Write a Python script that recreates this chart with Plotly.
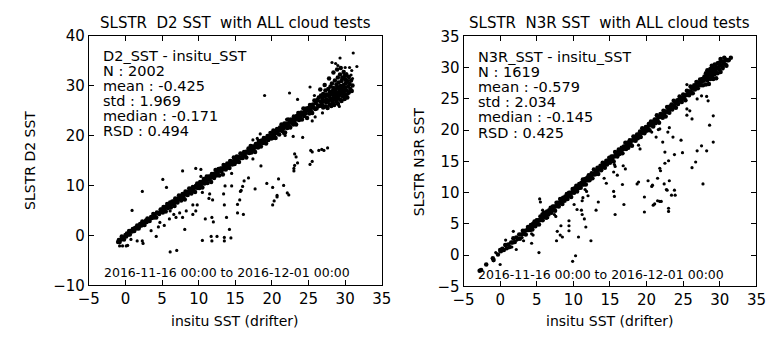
import plotly.graph_objects as go

# ---------------- data ----------------
# Left panel: D2 SST vs in-situ SST.  Band points given as (insitu, D2 - insitu)
d2_band = [(-1.0,-0.3),(-0.9,0.0),(-0.8,-0.5),(-0.6,-0.2),(-0.5,0.3),(-0.3,-0.1),(-0.2,-0.6),(0.0,0.1),(0.1,-0.3),(0.2,0.2),(0.4,-0.2),(0.5,0.4),(0.6,-0.4),(0.8,0.1),(0.9,-0.1),(1.0,0.3),(1.2,-0.3),(1.3,0.2),(1.5,-0.1),(1.6,0.4),(1.8,-0.4),(1.9,0.0),(2.0,0.3),(2.2,-0.2),(2.3,0.5),(2.5,0.0),(2.6,-0.5),(2.8,0.2),(2.9,-0.2),(3.0,0.4),(3.2,0.0),(3.3,-0.4),(3.5,0.2),(3.6,-0.1),(3.8,0.5),(3.9,-0.3),(4.0,0.1),(4.2,-0.6),(4.3,0.3),(4.5,0.0),(4.6,-0.3),(4.8,0.4),(4.9,-0.1),
(5.0,0.2),(5.1,-0.5),(5.2,0.5),(5.3,-0.1),(5.4,0.3),(5.5,-0.7),(5.6,0.1),(5.7,0.6),(5.8,-0.3),(5.9,0.2),(6.0,-0.1),(6.1,0.5),(6.2,-0.6),(6.3,0.0),(6.4,0.4),(6.5,-0.3),(6.6,0.2),(6.7,-0.8),(6.8,0.6),(6.9,-0.2),(7.0,0.3),(7.1,-0.5),(7.2,0.1),(7.3,0.7),(7.4,-0.1),(7.5,0.4),(7.6,-0.6),(7.7,0.0),(7.8,0.5),(7.9,-0.3),(8.0,0.2),(8.1,-0.9),(8.2,0.6),(8.3,-0.1),(8.4,0.3),(8.5,-0.4),(8.6,0.1),(8.7,0.7),(8.8,-0.2),(8.9,0.4),(9.0,-0.6),(9.1,0.0),(9.2,0.5),(9.3,-0.3),(9.4,0.2),(9.5,-0.8),(9.6,0.3),(9.7,-0.1),(9.8,0.6),(9.9,-0.4),
(10.0,0.1),(10.1,-0.6),(10.2,0.5),(10.3,-0.2),(10.4,0.3),(10.5,-0.9),(10.6,0.0),(10.7,0.6),(10.8,-0.4),(10.9,0.2),(11.0,-0.1),(11.1,0.7),(11.2,-0.7),(11.3,0.1),(11.4,0.4),(11.5,-0.3),(11.6,0.2),(11.7,-1.0),(11.8,0.5),(11.9,-0.2),(12.0,0.3),(12.1,-0.6),(12.2,0.0),(12.3,0.8),(12.4,-0.4),(12.5,0.2),(12.6,-0.1),(12.7,0.6),(12.8,-0.8),(12.9,0.1),(13.0,0.4),(13.1,-0.3),(13.2,0.2),(13.3,-1.1),(13.4,0.7),(13.5,-0.2),(13.6,0.3),(13.7,-0.5),(13.8,0.0),(13.9,0.5),(14.0,-0.3),(14.1,0.2),(14.2,-0.7),(14.3,0.6),(14.4,-0.1),(14.5,0.3),(14.6,-0.4),(14.7,0.1),(14.8,0.8),(14.9,-0.6),
(15.0,0.2),(15.1,-0.4),(15.2,0.6),(15.3,-0.1),(15.4,0.3),(15.5,-0.8),(15.6,0.0),(15.7,0.7),(15.8,-0.3),(15.9,0.4),(16.0,-0.5),(16.1,0.1),(16.2,0.5),(16.3,-0.2),(16.4,0.3),(16.5,-0.9),(16.6,0.2),(16.7,-0.1),(16.8,0.6),(16.9,-0.4),(17.0,0.1),(17.1,0.8),(17.2,-0.6),(17.3,0.0),(17.4,0.4),(17.5,-0.3),(17.6,0.2),(17.7,-1.0),(17.8,0.5),(17.9,-0.2),(18.0,0.3),(18.1,-0.5),(18.2,0.7),(18.3,-0.1),(18.4,0.2),(18.5,-0.7),(18.6,0.4),(18.7,0.0),(18.8,-0.3),(18.9,0.6),(19.0,-0.2),(19.1,0.3),(19.2,-0.8),(19.3,0.1),(19.4,0.5),(19.5,-0.4),(19.6,0.2),(19.7,-0.1),(19.8,0.7),(19.9,-0.5),
(20.0,0.3),(20.1,-0.6),(20.2,0.8),(20.3,-0.2),(20.4,0.4),(20.5,-1.0),(20.6,0.1),(20.7,0.6),(20.8,-0.4),(20.9,0.2),(21.0,-0.8),(21.1,0.5),(21.2,-0.1),(21.3,0.9),(21.4,-0.5),(21.5,0.3),(21.6,-0.2),(21.7,0.7),(21.8,-1.2),(21.9,0.0),(22.0,0.4),(22.1,-0.6),(22.2,1.0),(22.3,-0.3),(22.4,0.2),(22.5,-0.9),(22.6,0.6),(22.7,-0.1),(22.8,0.3),(22.9,-0.7),(23.0,0.8),(23.1,-0.4),(23.2,0.1),(23.3,-1.1),(23.4,0.5),(23.5,-0.2),(23.6,0.9),(23.7,-0.6),(23.8,0.2),(23.9,-0.3),(24.0,0.6),(24.1,-0.9),(24.2,0.0),(24.3,1.1),(24.4,-0.5),(24.5,0.3),(24.6,-0.2),(24.7,0.7),(24.8,-1.3),(24.9,0.1),(25.0,0.5),(25.1,-0.7),(25.2,0.9),(25.3,-0.3),(25.4,0.2),(25.5,-1.0),(25.6,0.6),(25.7,-0.1),(25.8,1.2),(25.9,-0.6)]

# Left panel warm-water cluster, (insitu, D2)
d2_cluster = [(26.0,26.5),(26.1,25.4),(26.2,27.1),(26.3,26.0),(26.4,27.6),(26.5,25.9),(26.6,26.8),(26.7,28.0),(26.8,26.3),(26.9,27.4),(27.0,25.6),(27.0,28.3),(27.1,26.9),(27.2,27.8),(27.3,25.8),(27.3,29.0),(27.4,26.6),(27.5,28.2),(27.5,27.2),(27.6,25.5),(27.7,29.3),(27.7,26.9),(27.8,27.9),(27.9,28.7),(27.9,26.2),(28.0,27.4),(28.0,29.8),(28.1,28.3),(28.1,25.9),(28.2,27.0),(28.2,30.4),(28.3,28.9),(28.3,26.6),(28.4,27.7),(28.4,29.5),(28.5,28.4),(28.5,26.1),(28.6,31.0),(28.6,27.3),(28.7,29.1),(28.7,28.0),(28.8,26.8),(28.8,30.2),(28.9,27.6),(28.9,29.7),(29.0,28.5),(29.0,31.6),(29.0,26.4),(29.1,27.9),(29.1,30.6),(29.2,29.2),(29.2,28.1),(29.3,32.2),(29.3,27.2),(29.4,29.9),(29.4,28.7),(29.5,30.9),(29.5,26.9),(29.6,28.4),(29.6,31.5),(29.7,29.5),(29.7,27.8),(29.8,32.7),(29.8,30.1),(29.9,28.9),(29.9,27.3),(30.0,31.2),(30.0,29.6),(30.1,28.2),(30.1,30.5),(30.2,32.0),(30.2,29.0),(30.3,27.6),(30.3,30.9),(30.4,29.8),(30.5,31.7),(30.5,28.6),(30.6,30.3),(30.7,29.3),(30.8,31.0),(30.9,28.9),(31.0,30.0),(26.6,29.2),(27.2,30.1),(27.8,31.4),(28.4,32.6),(28.9,33.2),(29.4,33.5),(29.9,31.9),(28.6,28.9),(29.3,29.7),(28.0,28.6),(27.4,28.0),(26.9,26.0),(28.8,27.3),(29.6,29.0),(30.0,28.0)]

# Left panel outliers, (insitu, D2)
d2_outliers = [(5.1,11.2),(2.3,8.8),(5.6,9.6),(7.8,12.9),(9.6,13.4),(10.3,13.2),(10.3,11.8),(0.9,5.0),(-0.9,-1.3),(-0.8,-2.1),(-0.4,-2.1),(0.1,-2.1),(0.3,-2.0),(0.75,-0.8),(1.6,-1.1),(2.3,-1.1),(2.4,-1.6),(3.5,0.95),(4.2,-0.2),(4.5,1.7),(5.3,2.0),(4.7,2.6),(6.1,-3.3),(7.0,-3.0),(8.1,1.2),(6.0,3.3),(6.9,3.6),(7.8,3.6),(7.4,4.5),(8.3,4.9),(9.2,4.2),(9.6,4.9),(6.1,4.9),(6.6,4.2),(9.2,6.1),(9.8,6.1),(10.5,-1.0),(11.7,-0.2),(12.5,-0.2),(11.8,-1.1),(13.5,-0.4),(10.9,3.3),(11.8,3.6),(12.0,2.7),(11.4,7.4),(11.9,7.1),(10.5,8.6),(11.5,8.3),(13.4,8.3),(13.6,9.9),(13.5,6.1),(13.8,3.6),(14.2,1.2),(14.5,9.9),(14.5,12.4),(14.4,-0.5),(13.5,-1.1),
(18.5,13.9),(23.1,14.0),(23.5,14.5),(23.0,13.4),(23.0,12.9),(25.2,14.2),(25.5,14.8),(16.8,11.5),(16.2,10.9),(16.0,9.8),(15.8,9.0),(15.7,8.8),(17.7,9.3),(15.6,7.1),(15.3,6.2),(15.3,4.5),(16.1,4.2),(19.3,10.4),(20.1,9.6),(20.9,11.3),(21.6,10.0),(20.7,8.0),(20.7,7.7),(20.3,6.9),(20.1,6.1),(22.1,8.5),(22.3,8.1),
(19.0,28.0),(22.4,28.5),(23.5,27.2),(25.2,29.7),(25.8,28.0),(25.9,23.7),(22.9,19.8),(24.2,19.6),(21.8,20.0),(18.4,20.3),(18.0,19.4),(17.4,19.1),(23.1,16.3),(23.3,15.7),(25.3,17.0),(25.5,16.7),(26.4,17.0),(26.8,17.2),(27.1,17.0),(27.6,17.5),(17.4,15.3),(29.3,35.5),(31.1,36.5),(31.6,33.8),(28.2,34.6),(28.7,34.4),(29.0,34.0),(30.0,33.6),(30.6,33.6),(30.9,33.0),(30.2,32.4),(30.8,32.1),(31.0,31.4),(30.4,28.3),(30.0,27.3),(29.1,26.1),(29.2,25.8),(27.5,25.8),(26.9,24.5),(25.1,24.8),(25.5,22.9),(22.0,23.2),(22.9,23.0),(21.6,20.4)]

# Right panel: N3R SST vs in-situ SST.  Band points given as (insitu, N3R - insitu)
n3r_band = [(-2.8,0.3),(-2.6,0.2),(-1.9,0.4),(-1.0,0.5),(-0.9,0.1),(-0.3,0.4),(0.0,0.8),(0.1,0.5),(0.3,0.7),(0.5,0.3),(0.7,0.9),(0.9,0.2),(1.1,0.6),(1.3,0.0),(1.5,0.5),(1.7,0.3),(1.8,0.9),(2.0,0.1),(2.2,0.6),(2.4,0.2),(2.6,0.7),(2.7,-0.1),(2.9,0.4),(3.1,0.8),(3.2,0.2),(3.4,0.5),(3.5,-0.2),(3.7,0.3),(3.8,0.7),(3.9,0.1),
(4.0,0.4),(4.1,-0.1),(4.2,0.6),(4.3,0.2),(4.4,-0.3),(4.5,0.5),(4.6,0.1),(4.7,0.7),(4.8,-0.2),(4.9,0.3),(5.0,0.6),(5.1,0.0),(5.2,0.4),(5.3,-0.4),(5.4,0.2),(5.5,0.7),(5.6,0.1),(5.7,0.5),(5.8,-0.2),(5.9,0.3),(6.0,0.8),(6.1,0.0),(6.2,0.4),(6.3,-0.3),(6.4,0.6),(6.5,0.2),(6.6,-0.1),(6.7,0.5),(6.8,0.1),(6.9,0.7),(7.0,-0.2),(7.1,0.3),(7.2,0.6),(7.3,0.0),(7.4,0.4),(7.5,-0.4),(7.6,0.2),(7.7,0.7),(7.8,0.1),(7.9,0.5),(8.0,-0.2),(8.1,0.3),(8.2,0.8),(8.3,0.0),(8.4,0.4),(8.5,-0.3),(8.6,0.6),(8.7,0.2),(8.8,-0.1),(8.9,0.5),(9.0,0.1),(9.1,0.7),(9.2,-0.2),(9.3,0.3),(9.4,0.6),(9.5,0.0),(9.6,0.4),(9.7,-0.4),(9.8,0.2),(9.9,0.7),
(10.0,0.3),(10.1,-0.1),(10.2,0.5),(10.3,0.1),(10.4,0.7),(10.5,-0.3),(10.6,0.4),(10.7,0.0),(10.8,0.6),(10.9,0.2),(11.0,-0.2),(11.1,0.5),(11.2,0.1),(11.3,0.8),(11.4,-0.1),(11.5,0.3),(11.6,0.6),(11.7,-0.4),(11.8,0.2),(11.9,0.5),(12.0,0.0),(12.1,0.7),(12.2,-0.2),(12.3,0.4),(12.4,0.1),(12.5,0.6),(12.6,-0.3),(12.7,0.3),(12.8,0.9),(12.9,0.0),(13.0,0.5),(13.1,-0.1),(13.2,0.2),(13.3,0.7),(13.4,-0.4),(13.5,0.4),(13.6,0.1),(13.7,0.6),(13.8,-0.2),(13.9,0.3),(14.0,0.8),(14.1,0.0),(14.2,0.5),(14.3,-0.3),(14.4,0.2),(14.5,0.6),(14.6,-0.1),(14.7,0.4),(14.8,0.1),(14.9,0.7),
(15.0,-0.2),(15.1,0.3),(15.2,0.6),(15.3,0.0),(15.4,0.4),(15.5,-0.5),(15.6,0.2),(15.7,0.8),(15.8,0.1),(15.9,0.5),(16.0,-0.2),(16.1,0.3),(16.2,0.7),(16.3,-0.1),(16.4,0.4),(16.5,0.0),(16.6,0.6),(16.7,-0.4),(16.8,0.2),(16.9,0.5),(17.0,0.1),(17.1,0.9),(17.2,-0.2),(17.3,0.3),(17.4,0.6),(17.5,-0.3),(17.6,0.2),(17.7,0.7),(17.8,0.0),(17.9,0.4),(18.0,-0.5),(18.1,0.3),(18.2,0.8),(18.3,0.1),(18.4,0.5),(18.5,-0.2),(18.6,0.2),(18.7,0.6),(18.8,-0.1),(18.9,0.4),(19.0,0.0),(19.1,0.7),(19.2,-0.3),(19.3,0.3),(19.4,0.9),(19.5,0.1),(19.6,0.5),(19.7,-0.2),(19.8,0.3),(19.9,0.6),
(20.0,-0.1),(20.1,0.4),(20.2,0.0),(20.3,0.7),(20.4,-0.4),(20.5,0.3),(20.6,0.8),(20.7,0.1),(20.8,0.5),(20.9,-0.3),(21.0,0.2),(21.1,0.6),(21.2,-0.1),(21.3,0.4),(21.4,1.0),(21.5,0.0),(21.6,0.5),(21.7,-0.5),(21.8,0.3),(21.9,0.7),(22.0,0.1),(22.1,0.4),(22.2,-0.2),(22.3,0.8),(22.4,0.2),(22.5,0.5),(22.6,-0.4),(22.7,0.3),(22.8,0.9),(22.9,0.0),(23.0,0.4),(23.1,-0.3),(23.2,0.6),(23.3,0.1),(23.4,0.7),(23.5,-0.2),(23.6,0.3),(23.7,1.0),(23.8,0.0),(23.9,0.5),(24.0,-0.4),(24.1,0.2),(24.2,0.6),(24.3,-0.1),(24.4,0.4),(24.5,0.9),(24.6,0.1),(24.7,0.5),(24.8,-0.3),(24.9,0.3),(25.0,0.7),(25.1,0.0),(25.2,0.4),(25.3,-0.5),(25.4,0.2),(25.5,0.8),(25.6,0.1),(25.7,0.5),(25.8,-0.2),(25.9,0.3),(26.0,1.0),(26.1,0.0),(26.2,0.5),(26.3,-0.4),(26.4,0.3),(26.5,0.7),(26.6,-0.1),(26.7,0.4),(26.8,0.9),(26.9,0.1),(27.0,-0.3),(27.1,0.5),(27.2,0.2),(27.3,0.8),(27.4,-0.2),(27.5,0.3),(27.6,0.6),(27.7,-0.5),(27.8,0.1),(27.9,0.7),
(28.0,0.2),(28.1,-0.8),(28.1,1.0),(28.2,0.4),(28.3,-0.3),(28.3,1.3),(28.4,0.0),(28.5,0.7),(28.5,-1.1),(28.6,0.3),(28.7,1.1),(28.7,-0.5),(28.8,0.5),(28.9,-0.2),(28.9,1.4),(29.0,0.1),(29.1,0.8),(29.1,-0.9),(29.2,0.4),(29.3,-0.3),(29.3,1.2),(29.4,0.0),(29.5,0.6),(29.5,-1.2),(29.6,0.3),(29.7,1.0),(29.7,-0.6),(29.8,0.2),(29.9,-0.2),(29.9,0.9),(30.0,0.5),(30.1,-0.8),(30.1,1.3),(30.2,0.1),(30.3,0.7),(30.4,-0.4),(30.5,0.3),(30.6,1.0),(30.7,-0.2),(30.8,0.5),(30.9,-0.6),(31.0,0.2),(31.2,0.0),(31.5,0.1)]

# Right panel outliers, (insitu, N3R)
n3r_outliers = [(-1.9,-1.5),(-1.0,-0.6),(-0.9,-0.9),(0.0,-1.5),(-0.6,0.4),(1.0,1.7),(0.75,2.4),(1.6,1.3),(2.2,0.9),(1.8,3.8),(2.3,2.4),(3.0,2.8),(3.2,2.3),(4.3,1.9),(4.5,3.2),(4.3,3.4),(5.3,0.4),(5.4,9.0),(5.5,8.5),(5.8,7.2),(5.7,6.6),(6.5,6.0),(7.4,6.5),(7.6,6.2),(8.3,4.7),(7.8,3.8),(8.2,3.2),(8.5,2.9),(7.7,2.3),(9.4,5.5),(9.4,4.7),(9.4,3.9),(10.1,8.1),(10.3,-0.1),(9.9,-1.0),(10.7,2.9),(10.5,7.3),(11.1,7.2),(11.2,6.5),(11.2,8.7),(11.3,9.2),(11.5,5.8),(11.7,4.5),(12.0,9.5),(12.4,2.3),(13.1,7.2),(13.4,8.5),(11.6,10.5),(11.8,10.2),(14.2,12.3),(14.5,11.5),
(15.6,14.5),(15.7,14.2),(15.5,13.3),(16.0,12.8),(16.8,14.3),(17.1,13.8),(15.5,10.2),(15.6,9.4),(16.7,11.3),(16.9,8.1),(15.7,6.5),(18.7,11.4),(18.9,11.7),(19.7,9.3),(19.7,6.9),(20.2,11.9),(20.7,11.0),(20.8,11.2),(21.5,12.3),(21.8,13.9),(21.9,13.5),(22.5,14.7),(23.0,15.1),(21.5,8.7),(21.8,8.6),(22.0,8.6),(20.9,8.0),(21.1,8.2),(22.4,11.4),(22.7,10.5),(22.8,10.4),(23.1,11.9),(23.0,7.5),(23.0,7.0),(23.4,9.6),(23.8,10.4),(23.9,9.6),(26.2,14.0),(26.7,14.9),(27.7,11.4),
(25.5,27.3),(26.9,25.0),(27.5,25.5),(28.2,25.4),(28.4,24.7),(25.5,23.4),(25.9,23.1),(25.5,22.4),(26.2,21.8),(29.1,22.3),(28.6,20.8),(29.1,18.1),(27.5,17.5),(26.9,16.7),(28.2,16.7),(24.9,16.4),(23.8,16.1),(24.7,18.4),(23.6,18.9),(23.1,20.4),(22.9,19.7),(22.2,18.1),(21.8,20.2),(21.6,20.1),(20.7,19.7),(21.3,18.9),(18.9,17.6),(19.1,17.0),(22.5,16.5),(28.4,29.0),(29.1,28.5),(30.4,29.8),(30.9,30.5),(30.6,31.0)]

titles = ["SLSTR\u00a0\u00a0D2 SST\u00a0\u00a0with ALL cloud tests",
          "SLSTR\u00a0\u00a0N3R SST\u00a0\u00a0with ALL cloud tests"]
stats_d2 = ["D2_SST - insitu_SST", "N : 2002", "mean : -0.425", "std : 1.969",
            "median : -0.171", "RSD : 0.494"]
stats_n3r = ["N3R_SST - insitu_SST", "N : 1619", "mean : -0.579", "std : 2.034",
             "median : -0.145", "RSD : 0.425"]
period = "2016-11-16 00:00 to 2016-12-01 00:00"
x_label = "insitu SST (drifter)"
y_labels = ["SLSTR D2 SST", "SLSTR N3R SST"]

# ---------------- assemble ----------------
d2_band_x = [p[0] for p in d2_band] + [p[0] for p in d2_cluster]
d2_band_y = [p[0] + p[1] for p in d2_band] + [p[1] for p in d2_cluster]
d2_out_x = [p[0] for p in d2_outliers]
d2_out_y = [p[1] for p in d2_outliers]
n3_band_x = [p[0] for p in n3r_band]
n3_band_y = [p[0] + p[1] for p in n3r_band]
n3_out_x = [p[0] for p in n3r_outliers]
n3_out_y = [p[1] for p in n3r_outliers]

W, H = 783, 337
FONT = "DejaVu Sans"

def fx(px):
    return px / W

def fy(py):
    return 1 - py / H

band_marker = dict(color="black", size=4.5, line=dict(width=0))
dot_marker = dict(color="black", size=3.2, line=dict(width=0))
fig = go.Figure()
for xs, ys, mk, xa, ya in [
    (d2_band_x, d2_band_y, band_marker, "x", "y"),
    (d2_out_x, d2_out_y, dot_marker, "x", "y"),
    (n3_band_x, n3_band_y, band_marker, "x2", "y2"),
    (n3_out_x, n3_out_y, dot_marker, "x2", "y2"),
]:
    fig.add_trace(go.Scatter(x=xs, y=ys, mode="markers", marker=mk,
                             xaxis=xa, yaxis=ya, showlegend=False, hoverinfo="skip"))

axis_common = dict(showline=True, linecolor="black", linewidth=1, mirror="allticks",
                   ticks="inside", ticklen=5, tickcolor="black", tickwidth=1,
                   showgrid=False, zeroline=False,
                   tickfont=dict(family=FONT, size=15, color="black"))

fig.update_layout(
    width=W, height=H,
    margin=dict(l=0, r=0, t=0, b=0),
    paper_bgcolor="white", plot_bgcolor="white",
    font=dict(family=FONT, color="black"),
    xaxis=dict(domain=[fx(80), fx(381)], range=[-5, 35], dtick=5, tick0=0,
               anchor="y", **axis_common),
    yaxis=dict(domain=[fy(292), fy(28)], range=[-10, 40], dtick=10, tick0=0,
               anchor="x", **axis_common),
    xaxis2=dict(domain=[fx(465), fx(766)], range=[-5, 35], dtick=5, tick0=0,
                anchor="y2", **axis_common),
    yaxis2=dict(domain=[fy(293), fy(29)], range=[-5, 35], dtick=5, tick0=0,
                anchor="x2", **axis_common),
)

ann = []
def text(x, y, s, size, xanchor="left", angle=0, height=None):
    a = dict(x=fx(x), y=fy(y), xref="paper", yref="paper", text=s,
             showarrow=False, xanchor=xanchor, yanchor="middle",
             textangle=angle, borderpad=0,
             font=dict(family=FONT, size=size, color="black"))
    if height is not None:
        a["height"] = height
        a["valign"] = "bottom"
    ann.append(a)

# titles
text(230.5, 15, titles[0], 15, "center")
text(615.5, 15, titles[1], 15, "center")
# stats blocks
for i, s in enumerate(stats_d2):
    text(93, 50 + i * 15.8, s, 14.5, height=15)
for i, s in enumerate(stats_n3r):
    text(479, 51 + i * 16, s, 14.5, height=15)
# period
text(95, 278, period, 12.5)
text(479, 280, period, 12.5)
# axis titles
text(230.5, 330, x_label, 14, "center")
text(615.5, 330, x_label, 14, "center")
text(20, 160, y_labels[0], 14, "center", -90)
text(420, 161, y_labels[1], 14, "center", -90)

fig.update_layout(annotations=ann)
fig.write_html("out.html")
